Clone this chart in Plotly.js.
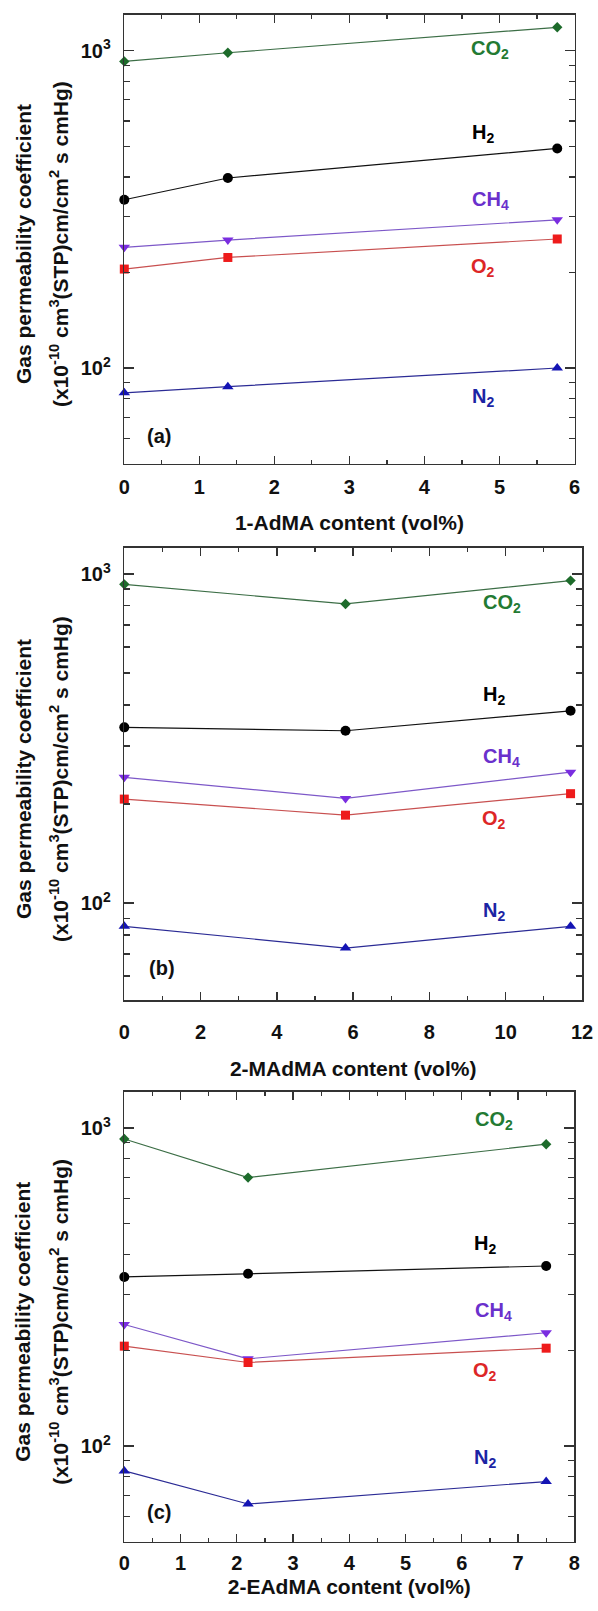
<!DOCTYPE html>
<html>
<head>
<meta charset="utf-8">
<script src="https://cdn.plot.ly/plotly-3.0.1.min.js"></script>
<style>html,body{margin:0;padding:0;background:#fff;}#chart{width:598px;height:1611px;}</style>
</head>
<body>
<div id="chart"></div>
<script>
// ---- data ----
const gases = ['CO2', 'H2', 'CH4', 'O2', 'N2'];
const gasLabels = ['CO<sub>2</sub>', 'H<sub>2</sub>', 'CH<sub>4</sub>', 'O<sub>2</sub>', 'N<sub>2</sub>'];

// panel (a): 1-AdMA
const xA = [0, 1.38, 5.77];
const co2A = [925, 985, 1185];
const h2A = [339, 397, 492];
const ch4A = [240, 253, 293];
const o2A = [205, 223, 255];
const n2A = [83.5, 87.3, 100];

// panel (b): 2-MAdMA
const xB = [0, 5.8, 11.7];
const co2B = [930, 811, 955];
const h2B = [342, 334, 384];
const ch4B = [241, 208, 250];
const o2B = [207, 185, 215];
const n2B = [85, 73, 85];

// panel (c): 2-EAdMA
const xC = [0, 2.2, 7.5];
const co2C = [923, 698, 889];
const h2C = [340, 348, 368];
const ch4C = [241, 188, 227];
const o2C = [206, 183, 203];
const n2C = [83.5, 65.7, 77.3];

const xTitles = ['1-AdMA content (vol%)', '2-MAdMA content (vol%)', '2-EAdMA content (vol%)'];
const panelTags = ['(a)', '(b)', '(c)'];
const yTickVals = [100, 1000];
const yTickText = ['10<sup>2</sup>', '10<sup>3</sup>'];
const yMinorVals = [50, 60, 70, 80, 90, 200, 300, 400, 500, 600, 700, 800, 900];
const yTitle1 = 'Gas permeability coefficient';
const yTitle2 = '(x10<sup>-10</sup> cm<sup>3</sup>(STP)cm/cm<sup>2</sup> s cmHg)';

// ---- styling ----
const FONT = 'Liberation Sans, Arial, sans-serif';
const styles = {
  CO2: {line: '#3c6e46', marker: '#1d6b2b', text: '#237a33', symbol: 'diamond', size: 8},
  H2:  {line: '#111111', marker: '#000000', text: '#000000', symbol: 'circle', size: 10},
  CH4: {line: '#7d58c8', marker: '#7a2de0', text: '#6a30cc', symbol: 'triangle-down', size: 10},
  O2:  {line: '#c85050', marker: '#ee1b1b', text: '#dd2626', symbol: 'square', size: 9},
  N2:  {line: '#2b2b95', marker: '#1414b4', text: '#1c24a4', symbol: 'triangle-up', size: 10}
};

const panels = [
  {x: xA, ys: [co2A, h2A, ch4A, o2A, n2A], xr: [0, 6], dt: 1, mdt: 0.5, yr: [1.699, 3.114],
   xd: [124.3, 574.5], yd: [14.5, 463.5], tls: 5, tts: 18,
   lab: [[4.88, 1010], [4.78, 550], [4.88, 337], [4.78, 207], [4.78, 81]], tag: [0.46, 61]},
  {x: xB, ys: [co2B, h2B, ch4B, o2B, n2B], xr: [0, 12], dt: 2, mdt: 1, yr: [1.7055, 3.079],
   xd: [124.3, 582], yd: [548, 1000], tls: 13, tts: 20,
   lab: [[9.9, 811], [9.68, 428], [9.9, 277], [9.68, 179], [9.68, 94.6]], tag: [0.98, 63.5]},
  {x: xC, ys: [co2C, h2C, ch4C, o2C, n2C], xr: [0, 8], dt: 1, mdt: 0.5, yr: [1.699, 3.113],
   xd: [124.3, 574.3], yd: [1092, 1541.7], tls: 3, tts: 6,
   lab: [[6.57, 1059], [6.42, 431], [6.57, 265], [6.42, 171], [6.42, 91.2]], tag: [0.62, 62.2]}
];

const W = 598, H = 1611;
const traces = [];
const annotations = [];
const layout = {
  width: W, height: H,
  margin: {l: 0, r: 0, t: 0, b: 0},
  paper_bgcolor: '#fff', plot_bgcolor: '#fff',
  showlegend: false,
  font: {family: FONT, size: 20, color: '#111'}
};

panels.forEach((p, i) => {
  const n = i === 0 ? '' : String(i + 1);
  const xa = 'x' + n, ya = 'y' + n;
  gases.forEach((g, k) => {
    const s = styles[g];
    traces.push({
      x: p.x, y: p.ys[k], xaxis: xa, yaxis: ya, type: 'scatter', mode: 'lines+markers',
      name: g, cliponaxis: false,
      line: {color: s.line, width: 1.2},
      marker: {color: s.marker, symbol: s.symbol, size: s.size, line: {width: 0}}
    });
    annotations.push({
      xref: xa, yref: ya, x: p.lab[k][0], y: Math.log10(p.lab[k][1]),
      text: gasLabels[k], showarrow: false, xanchor: 'center', yanchor: 'middle',
      font: {family: FONT, size: 20, color: s.text, weight: 'bold'}
    });
  });
  annotations.push({
    xref: xa, yref: ya, x: p.tag[0], y: Math.log10(p.tag[1]), text: panelTags[i],
    showarrow: false, xanchor: 'center', yanchor: 'middle',
    font: {family: FONT, size: 20, color: '#111', weight: 'bold'}
  });
  const yMid = 1 - ((p.yd[0] + p.yd[1]) / 2 + 5) / H;
  annotations.push({
    xref: 'paper', yref: 'paper', x: 23 / W, y: yMid, text: yTitle1, textangle: -90,
    showarrow: false, xanchor: 'center', yanchor: 'middle',
    font: {family: FONT, size: 21, color: '#111', weight: 'bold'}
  });
  annotations.push({
    xref: 'paper', yref: 'paper', x: 59 / W, y: yMid, text: yTitle2, textangle: -90,
    showarrow: false, xanchor: 'center', yanchor: 'middle',
    font: {family: FONT, size: 21, color: '#111', weight: 'bold'}
  });

  layout['xaxis' + n] = {
    domain: [p.xd[0] / W, p.xd[1] / W], anchor: ya, range: p.xr,
    showline: true, linecolor: '#333', linewidth: 1.6, mirror: 'ticks',
    ticks: 'inside', ticklen: 8, tickwidth: 1.3, tickcolor: '#333',
    tick0: 0, dtick: p.dt, showgrid: false, zeroline: false,
    ticklabelstandoff: p.tls,
    tickfont: {family: FONT, size: 20, color: '#111', weight: 'bold'},
    minor: {ticks: 'inside', ticklen: 4, dtick: p.mdt, tick0: 0, tickcolor: '#333', tickwidth: 1.2, showgrid: false},
    title: {text: xTitles[i], standoff: p.tts, font: {family: FONT, size: 21, color: '#111', weight: 'bold'}}
  };
  layout['yaxis' + n] = {
    domain: [1 - p.yd[1] / H, 1 - p.yd[0] / H], anchor: xa, type: 'log', range: p.yr,
    showline: true, linecolor: '#333', linewidth: 1.6, mirror: 'ticks',
    ticks: 'inside', ticklen: 10, tickwidth: 1.3, tickcolor: '#333',
    tickvals: yTickVals, ticktext: yTickText, showgrid: false, zeroline: false,
    ticklabelstandoff: 8,
    tickfont: {family: FONT, size: 20, color: '#111', weight: 'bold'},
    minor: {ticks: 'inside', ticklen: 6, tickvals: yMinorVals, tickcolor: '#333', tickwidth: 1.2, showgrid: false}
  };
});
layout.annotations = annotations;

Plotly.newPlot('chart', traces, layout, {staticPlot: true, displayModeBar: false});
</script>
</body>
</html>
